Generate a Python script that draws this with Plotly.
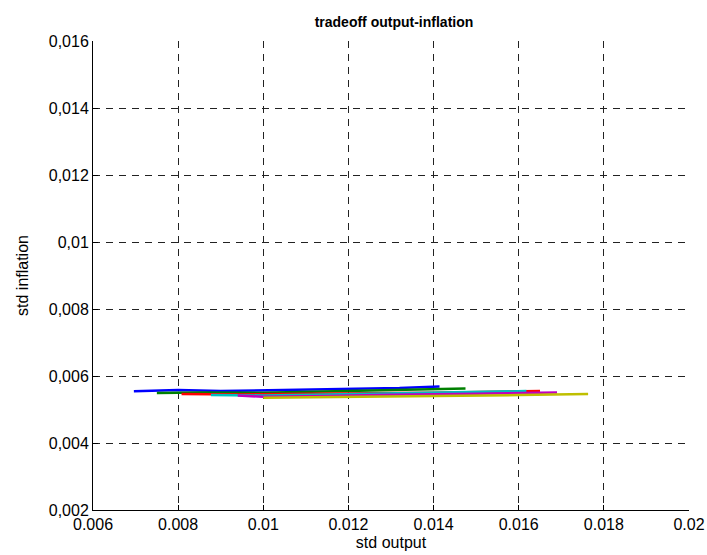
import plotly.graph_objects as go

# std output (x) and std inflation (y) per series
blue_x = [0.00696, 0.0080, 0.0090, 0.0105, 0.0120, 0.0132, 0.01414]
blue_y = [0.005545, 0.00558, 0.00555, 0.00558, 0.00561, 0.00564, 0.00569]
green_x = [0.00750, 0.0085, 0.0100, 0.0115, 0.0130, 0.0140, 0.01475]
green_y = [0.00549, 0.00551, 0.00550, 0.00554, 0.00557, 0.00560, 0.00563]
red_x = [0.00808, 0.0095, 0.0110, 0.0125, 0.0140, 0.0155, 0.01650]
red_y = [0.00546, 0.00545, 0.00547, 0.00548, 0.00550, 0.00553, 0.00555]
cyan_x = [0.00877, 0.0100, 0.0115, 0.0130, 0.0145, 0.01618]
cyan_y = [0.00543, 0.00542, 0.00545, 0.00548, 0.00550, 0.00555]
magenta_x = [0.00940, 0.0100, 0.0115, 0.0130, 0.0150, 0.01690]
magenta_y = [0.00542, 0.00538, 0.00540, 0.00544, 0.00547, 0.00551]
yellow_x = [0.01000, 0.0110, 0.0125, 0.0140, 0.0160, 0.01763]
yellow_y = [0.00535, 0.00536, 0.00538, 0.00540, 0.00543, 0.00546]

series = [
    (blue_x, blue_y, "#0000ff"),
    (green_x, green_y, "#008000"),
    (red_x, red_y, "#ff0000"),
    (cyan_x, cyan_y, "#00bfbf"),
    (magenta_x, magenta_y, "#bf00bf"),
    (yellow_x, yellow_y, "#bfbf00"),
]

x_ticks = [0.006, 0.008, 0.01, 0.012, 0.014, 0.016, 0.018, 0.02]
x_ticktext = ["0.006", "0.008", "0.01", "0.012", "0.014", "0.016", "0.018", "0.02"]
y_ticks = [0.002, 0.004, 0.006, 0.008, 0.01, 0.012, 0.014, 0.016]
y_ticktext = ["0,002", "0,004", "0,006", "0,008", "0,01", "0,012", "0,014", "0,016"]

fig = go.Figure()
for xs, ys, c in series:
    fig.add_trace(go.Scatter(x=xs, y=ys, mode="lines",
                             line=dict(color=c, width=2.5), showlegend=False))

fam = "Liberation Sans, Arial, sans-serif"
font = dict(family=fam, size=16, color="black")
grid_dash = "7px,6px"
W, H = 707, 555
fig.update_layout(
    template="none",
    width=W, height=H,
    margin=dict(l=93, r=18, t=41, b=45, autoexpand=False),
    paper_bgcolor="white", plot_bgcolor="white",
    font=font,
    title=dict(text="<b>tradeoff output-inflation</b>", x=394 / W, xanchor="center",
               y=1 - 22 / H, yanchor="middle", font=dict(family=fam, size=14)),
    xaxis=dict(range=[0.006, 0.02], tickvals=x_ticks, ticktext=x_ticktext,
               automargin=False, tickfont=dict(family=fam, size=16),
               showgrid=True, gridcolor="#222222", griddash=grid_dash, gridwidth=1,
               showline=True, linecolor="black", linewidth=1, mirror=False,
               ticks="inside", ticklen=5, tickcolor="black", zeroline=False,
               title=dict(text="std output", standoff=4, font=dict(family=fam, size=16))),
    yaxis=dict(range=[0.002, 0.016], tickvals=y_ticks, ticktext=y_ticktext,
               automargin=False, tickfont=dict(family=fam, size=16),
               showgrid=True, gridcolor="#222222", griddash=grid_dash, gridwidth=1,
               showline=True, linecolor="black", linewidth=1, mirror=False,
               ticks="inside", ticklen=5, tickcolor="black", zeroline=False,
               title=dict(text="std inflation", standoff=16, font=dict(family=fam, size=16))),
)

fig.write_html("out.html", config={"displayModeBar": False},
               post_script="document.body.style.margin='0';document.body.style.overflow='hidden';")
